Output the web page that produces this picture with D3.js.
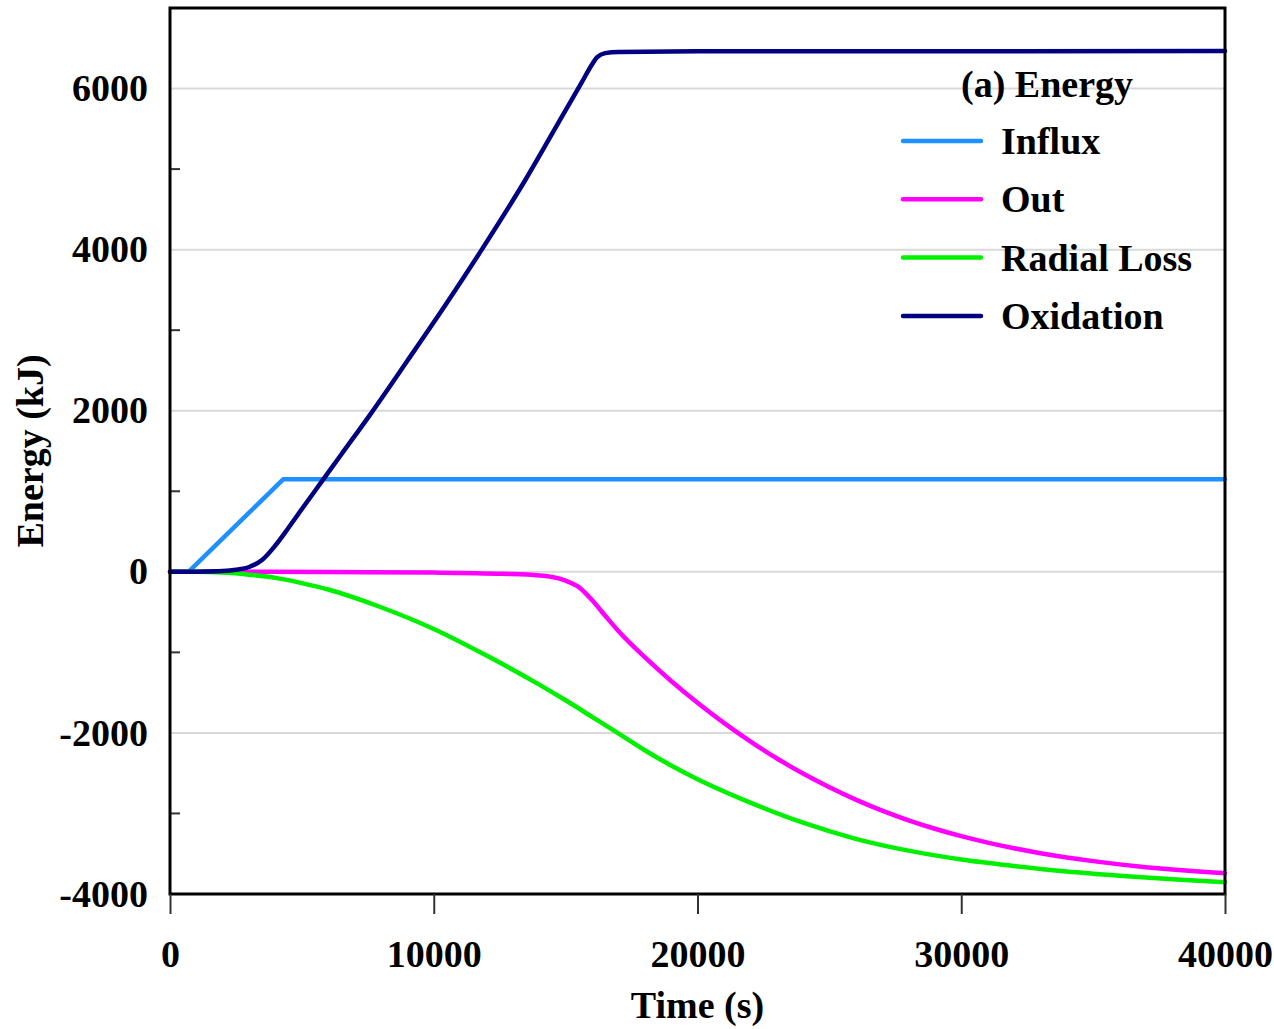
<!DOCTYPE html>
<html>
<head>
<meta charset="utf-8">
<script src="https://cdn.jsdelivr.net/npm/d3@7"></script>
<style>
  html, body { margin: 0; padding: 0; background: #fff; }
  svg { display: block; }
  text { font-family: "Liberation Serif", "Times New Roman", serif; font-weight: bold; fill: #000; }
</style>
</head>
<body>
<svg id="chart" width="1274" height="1029"></svg>
<script>
// Cumulative energy terms (kJ) against time (s)
const influx = [[0, 0], [700, 0], [4300, 1150], [40000, 1150]];

const out = [
  [0, 0], [2000, 0], [6000, -3], [10000, -10], [12600, -25], [14000, -45],
  [14500, -65], [15000, -110], [15500, -190], [16000, -350], [16500, -545],
  [17000, -735], [18000, -1060], [19000, -1355], [20000, -1625], [21000, -1875],
  [22000, -2105], [23000, -2315], [24000, -2505], [25000, -2675], [26000, -2828],
  [27000, -2965], [28000, -3085], [29000, -3190], [30000, -3282], [31000, -3362],
  [32000, -3432], [33000, -3493], [34000, -3546], [35000, -3592], [36000, -3632],
  [37000, -3667], [38000, -3697], [39000, -3722], [40000, -3742]
];

const radialLoss = [
  [0, 0], [1000, 0], [2000, -10], [3000, -35], [4000, -75], [5000, -140],
  [6000, -220], [8000, -440], [10000, -710], [12000, -1040], [14000, -1400],
  [15000, -1595], [16000, -1800], [17000, -2005], [18000, -2215], [19000, -2405],
  [20000, -2575], [22000, -2865], [24000, -3115], [26000, -3315], [28000, -3462],
  [30000, -3572], [32000, -3652], [34000, -3720], [36000, -3772], [38000, -3816],
  [40000, -3854]
];

const oxidation = [
  [0, 0], [1000, 2], [2000, 10], [2500, 25], [3000, 60], [3500, 150],
  [4000, 330], [4500, 550], [5000, 780], [5750, 1120], [6500, 1460],
  [7650, 1980], [9000, 2620], [10500, 3340], [11820, 4000], [13500, 4880],
  [14980, 5720], [15600, 6070], [16000, 6300], [16200, 6390], [16500, 6440],
  [17000, 6455], [20000, 6462], [40000, 6465]
];

const seriesNames = ["Influx", "Out", "Radial Loss", "Oxidation"];
const seriesColors = ["#1e90ff", "#ff00ff", "#00f000", "#000080"];
const seriesData = [influx, out, radialLoss, oxidation];

const xTicks = [0, 10000, 20000, 30000, 40000];
const yTicks = [-4000, -2000, 0, 2000, 4000, 6000];
const yMinorTicks = [-3000, -1000, 1000, 3000, 5000];

const chartTitle = "(a) Energy";
const xTitle = "Time (s)";
const yTitle = "Energy (kJ)";

// Layout
const margin = { left: 170, right: 49, top: 8, bottom: 135 };
const W = 1274, H = 1029;
const iw = W - margin.left - margin.right;
const ih = H - margin.top - margin.bottom;

const svg = d3.select("#chart");
const g = svg.append("g").attr("transform", `translate(${margin.left},${margin.top})`);

const x = d3.scaleLinear().domain([0, 40000]).range([0, iw]);
const y = d3.scaleLinear().domain([-4000, 7000]).range([ih, 0]);

// Horizontal gridlines
g.append("g").selectAll("line")
  .data(yTicks.filter(v => v > -4000))
  .join("line")
  .attr("x1", 0).attr("x2", iw)
  .attr("y1", d => y(d)).attr("y2", d => y(d))
  .attr("stroke", "#d9d9d9").attr("stroke-width", 2);

// Minor inward ticks on the left edge
g.append("g").selectAll("line")
  .data(yMinorTicks)
  .join("line")
  .attr("x1", 0).attr("x2", 10)
  .attr("y1", d => y(d)).attr("y2", d => y(d))
  .attr("stroke", "#333").attr("stroke-width", 2);

// Series lines
const line = d3.line()
  .x(d => x(d[0]))
  .y(d => y(d[1]));

seriesData.forEach((data, i) => {
  g.append("path")
    .datum(data)
    .attr("fill", "none")
    .attr("stroke", seriesColors[i])
    .attr("stroke-width", 4.5)
    .attr("stroke-linejoin", "round")
    .attr("stroke-linecap", "round")
    .attr("d", line.curve(i === 0 ? d3.curveLinear : d3.curveMonotoneX));
});

// Frame
g.append("rect")
  .attr("x", 0).attr("y", 0).attr("width", iw).attr("height", ih)
  .attr("fill", "none").attr("stroke", "#000").attr("stroke-width", 3);

// Tick labels keep a plain hyphen for negatives
const plain = d => String(d);

// X axis
const xAxis = g.append("g")
  .attr("transform", `translate(0,${ih})`)
  .call(d3.axisBottom(x).tickValues(xTicks).tickSize(20).tickPadding(26).tickFormat(plain));
xAxis.select(".domain").remove();
xAxis.selectAll(".tick line").attr("stroke", "#333").attr("stroke-width", 2);
xAxis.selectAll("text").style("font-size", "38px").attr("fill", "#000");

// Y axis
const yAxis = g.append("g")
  .call(d3.axisLeft(y).tickValues(yTicks).tickSize(0).tickPadding(22).tickFormat(plain));
yAxis.select(".domain").remove();
yAxis.selectAll("text").style("font-size", "38px").attr("fill", "#000");

// Axis titles
svg.append("text")
  .attr("x", margin.left + iw / 2)
  .attr("y", 1018)
  .attr("text-anchor", "middle")
  .style("font-size", "38px")
  .text(xTitle);

svg.append("text")
  .attr("transform", `translate(43,${margin.top + ih / 2}) rotate(-90)`)
  .attr("text-anchor", "middle")
  .style("font-size", "38px")
  .text(yTitle);

// Legend
const legend = svg.append("g");
legend.append("text")
  .attr("x", 1047).attr("y", 97)
  .attr("text-anchor", "middle")
  .style("font-size", "38px")
  .text(chartTitle);

const rows = legend.selectAll("g.row")
  .data(seriesNames)
  .join("g")
  .attr("class", "row")
  .attr("transform", (d, i) => `translate(0,${141 + i * 58.3})`);

rows.append("line")
  .attr("x1", 903).attr("x2", 981)
  .attr("y1", 0).attr("y2", 0)
  .attr("stroke", (d, i) => seriesColors[i])
  .attr("stroke-width", 4.5)
  .attr("stroke-linecap", "round");

rows.append("text")
  .attr("x", 1001).attr("y", 13)
  .style("font-size", "38px")
  .text(d => d);
</script>
</body>
</html>
